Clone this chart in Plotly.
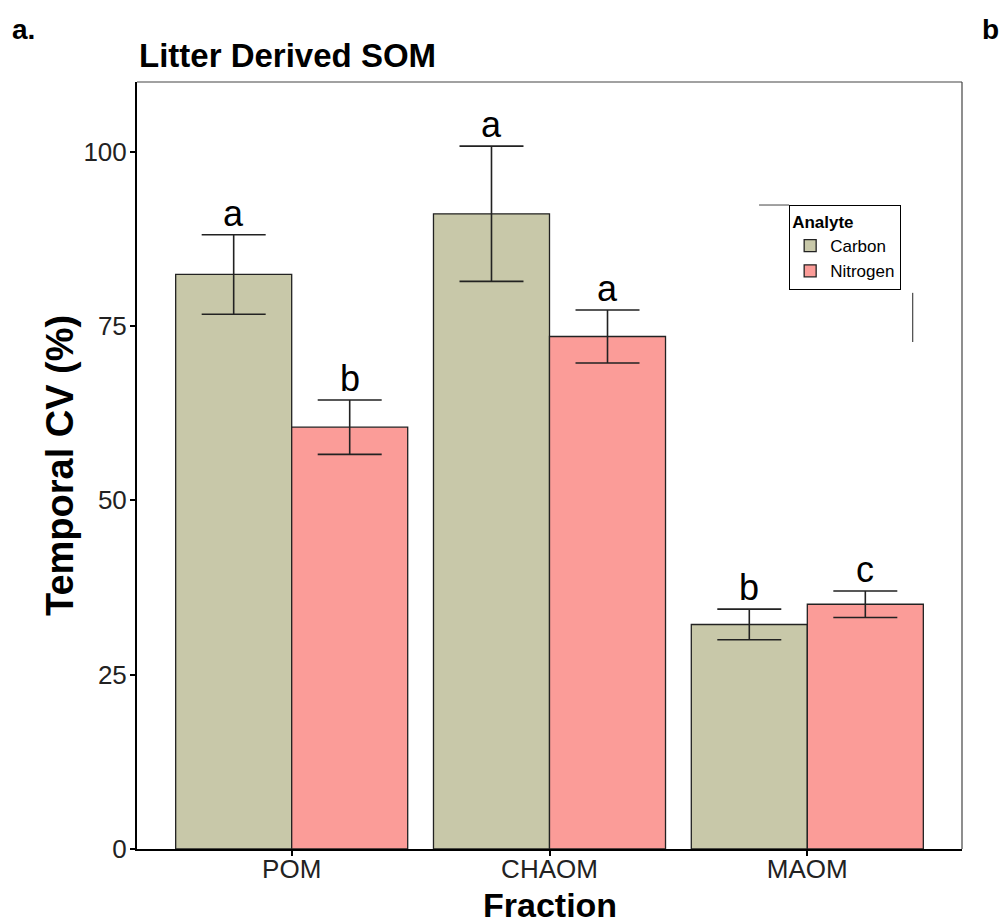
import plotly.graph_objects as go

fractions = ["POM", "CHAOM", "MAOM"]
carbon_cv = [82.4, 91.1, 32.2]
carbon_err = [5.7, 9.7, 2.2]
nitrogen_cv = [60.5, 73.5, 35.1]
nitrogen_err = [3.9, 3.8, 1.9]
carbon_letters = ["a", "a", "b"]
nitrogen_letters = ["b", "a", "c"]
y_ticks = [0, 25, 50, 75, 100]

C_COL = "#C8C8A9"
N_COL = "#FB9C98"
FONT = "Liberation Sans, Arial, sans-serif"

fig = go.Figure()
for name, vals, errs, col in [("Carbon", carbon_cv, carbon_err, C_COL),
                              ("Nitrogen", nitrogen_cv, nitrogen_err, N_COL)]:
    fig.add_trace(go.Bar(
        name=name, x=fractions, y=vals,
        marker=dict(color=col, line=dict(color="#222222", width=1.3)),
        error_y=dict(type="data", array=errs, visible=True, color="#222222",
                     thickness=1.6, width=32),
    ))

# significance letters
for i, f in enumerate(fractions):
    for off, vals, errs, letters in [(-0.225, carbon_cv, carbon_err, carbon_letters),
                                     (0.225, nitrogen_cv, nitrogen_err, nitrogen_letters)]:
        fig.add_annotation(x=i + off, y=vals[i] + errs[i], text=letters[i],
                           showarrow=False, yanchor="bottom", yshift=-1,
                           font=dict(size=36, color="black", family=FONT))

fig.update_layout(
    width=1000, height=923,
    margin=dict(l=137, r=38, t=82, b=74),
    paper_bgcolor="white", plot_bgcolor="white",
    barmode="group", bargap=0.1, bargroupgap=0,
    font=dict(family=FONT, color="black"),
    showlegend=True,
    legend=dict(x=0.7905, y=0.8396, xanchor="left", yanchor="top",
                bordercolor="black", borderwidth=1, bgcolor="white",
                title=dict(text="<b>Analyte</b>", font=dict(size=17, family=FONT)),
                font=dict(size=17, family=FONT), tracegroupgap=0, itemwidth=30),
    xaxis=dict(type="category", range=[-0.6, 2.6], showline=True, linecolor="black",
               linewidth=2, ticks="outside", ticklen=5, tickwidth=1.5, tickcolor="black",
               tickfont=dict(size=26, family=FONT, color="#222222"), mirror=False,
               automargin=False, ticklabelstandoff=-9),
    yaxis=dict(range=[0, 110], tickvals=y_ticks, showline=True, linecolor="black",
               linewidth=2, ticks="outside", ticklen=5, tickwidth=1.5, tickcolor="black",
               showgrid=False, zeroline=False, automargin=False, ticklabelstandoff=-2,
               tickfont=dict(size=26, family=FONT, color="#222222")),
)

# axis titles
fig.add_annotation(xref="paper", yref="paper", x=0.5, y=(849 - 905) / 767,
                   text="<b>Fraction</b>", showarrow=False, xanchor="center", yanchor="middle",
                   font=dict(size=34, family=FONT, color="black"))
fig.add_annotation(xref="paper", yref="paper", x=(60 - 137) / 825, y=(849 - 466) / 767,
                   text="<b>Temporal CV (%)</b>", showarrow=False, xanchor="center",
                   yanchor="middle", textangle=-90,
                   font=dict(size=38, family=FONT, color="black"))

# panel frame (top and right)
fig.add_shape(type="line", xref="paper", yref="paper", x0=0, x1=1, y0=1, y1=1,
              line=dict(color="#444444", width=1.2))
fig.add_shape(type="line", xref="paper", yref="paper", x0=1, x1=1, y0=0, y1=1,
              line=dict(color="#444444", width=1.2))
# stray legend lines
fig.add_shape(type="line", xref="paper", yref="paper", x0=0.754, x1=0.7905, y0=0.8396, y1=0.8396,
              line=dict(color="#444444", width=1))
fig.add_shape(type="line", xref="paper", yref="paper", x0=0.9403, x1=0.9403, y0=0.661, y1=0.7251,
              line=dict(color="#222222", width=1))

fig.add_annotation(xref="paper", yref="paper", x=0.0, y=(849 - 55) / 767,
                   text="<b>Litter Derived SOM</b>", showarrow=False, xanchor="left",
                   yanchor="middle", font=dict(size=33, family=FONT, color="black"))
fig.add_annotation(xref="paper", yref="paper", x=(10 - 137) / 825, y=(849 - 30) / 767,
                   text="<b>a.</b>", showarrow=False, xanchor="left", yanchor="middle",
                   font=dict(size=28, family=FONT, color="black"))
fig.add_annotation(xref="paper", yref="paper", x=(1000 - 137) / 825, y=(849 - 30) / 767,
                   text="<b>b</b>", showarrow=False, xanchor="right", yanchor="middle",
                   borderpad=0,
                   font=dict(size=28, family=FONT, color="black"))

fig.write_html("out.html")
